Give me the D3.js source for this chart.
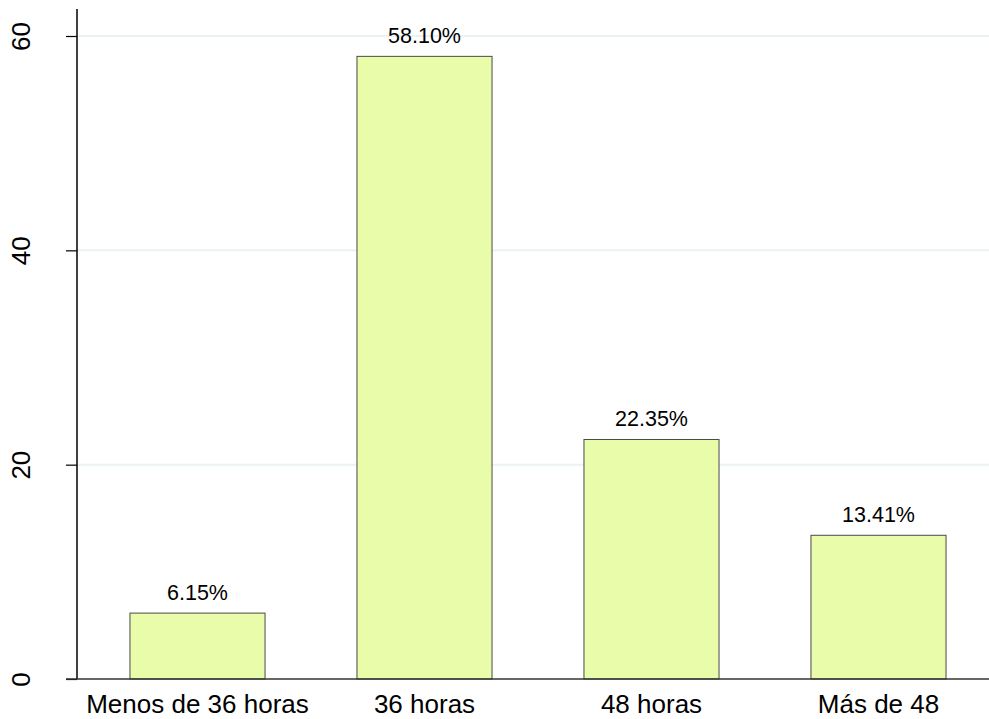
<!DOCTYPE html>
<html><head><meta charset="utf-8">
<script src="https://cdn.jsdelivr.net/npm/d3@7"></script>
<style>body{margin:0;background:#fff}svg{display:block}text{font-family:Arial,"Liberation Sans",sans-serif;fill:#000}</style>
</head><body>
<script>
const categories = ["Menos de 36 horas", "36 horas", "48 horas", "Más de 48"];
const values = [6.15, 58.10, 22.35, 13.41];
const labels = ["6.15%", "58.10%", "22.35%", "13.41%"];
const yTicks = [0, 20, 40, 60];

const W = 989, H = 719;
const svg = d3.select("body").append("svg").attr("width", W).attr("height", H);
const y = d3.scaleLinear().domain([0, 60]).range([679, 36]);
const x = d3.scaleBand().domain(categories).range([84, 992]).paddingInner(0.405).paddingOuter(0.2025);

// gridlines
svg.append("g").selectAll("line").data(yTicks.filter(d => d > 0)).join("line")
  .attr("x1", 77).attr("x2", W).attr("y1", d => y(d)).attr("y2", d => y(d))
  .attr("stroke", "#eaf2f3").attr("stroke-width", 2);

// bars
svg.append("g").selectAll("rect").data(values).join("rect")
  .attr("x", (d, i) => x(categories[i])).attr("width", x.bandwidth())
  .attr("y", d => y(d)).attr("height", d => y(0) - y(d))
  .attr("fill", "#e8fcaa").attr("stroke", "#4a4a4a").attr("stroke-width", 1);

// value labels
svg.append("g").selectAll("text").data(values).join("text")
  .attr("x", (d, i) => x(categories[i]) + x.bandwidth() / 2)
  .attr("y", d => y(d) - 13.5)
  .attr("text-anchor", "middle").attr("font-size", 21.5)
  .text((d, i) => labels[i]);

// y axis
const yAxis = svg.append("g").attr("transform", "translate(77,0)")
  .call(d3.axisLeft(y).tickValues(yTicks).tickSize(11).tickPadding(0).tickFormat(d3.format("d")));
yAxis.select(".domain").attr("d", "M0,9V679").attr("stroke", "#000").attr("stroke-width", 1.5);
yAxis.selectAll(".tick line").attr("stroke", "#000").attr("stroke-width", 1.2);
yAxis.selectAll(".tick text").attr("font-size", 26).attr("font-family", "Arial, Liberation Sans, sans-serif")
  .attr("fill", "#000").attr("text-anchor", "middle").attr("x", 0).attr("dy", 0)
  .attr("transform", "translate(-54,0) rotate(-90)").attr("dominant-baseline", "middle");

// x axis
const xAxis = svg.append("g").attr("transform", "translate(0,679)")
  .call(d3.axisBottom(x).tickSize(0).tickPadding(0));
xAxis.select(".domain").attr("d", "M66,0H" + W).attr("stroke", "#333").attr("stroke-width", 1.5);
xAxis.selectAll(".tick text").attr("font-size", 26).attr("font-family", "Arial, Liberation Sans, sans-serif")
  .attr("fill", "#000").attr("y", 34).attr("dy", 0);
</script>
</body></html>
